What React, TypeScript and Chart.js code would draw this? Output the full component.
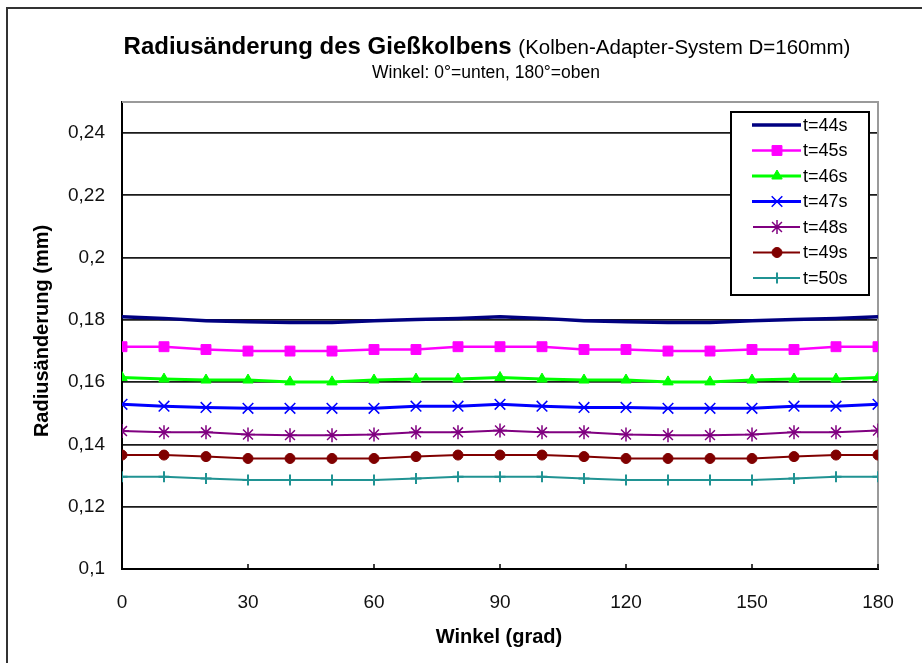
import { useEffect, useRef } from 'react';
import { Chart, registerables } from 'chart.js';
import { drawPoint } from 'chart.js/helpers';

Chart.register(...registerables);

// Angle around the piston (degrees), one reading every 10°
const angles = [0, 10, 20, 30, 40, 50, 60, 70, 80, 90, 100, 110, 120, 130, 140, 150, 160, 170, 180];

// Radius change (mm) per time step
const t44 = [0.1810, 0.1805, 0.1797, 0.1794, 0.1792, 0.1792, 0.1797, 0.1801, 0.1805, 0.1810, 0.1805, 0.1797, 0.1794, 0.1792, 0.1792, 0.1797, 0.1801, 0.1805, 0.1810];
const t45 = [0.1714, 0.1714, 0.1705, 0.1700, 0.1700, 0.1700, 0.1705, 0.1705, 0.1714, 0.1714, 0.1714, 0.1705, 0.1705, 0.1700, 0.1700, 0.1705, 0.1705, 0.1714, 0.1714];
const t46 = [0.1615, 0.1610, 0.1607, 0.1607, 0.1601, 0.1601, 0.1607, 0.1610, 0.1610, 0.1615, 0.1610, 0.1607, 0.1607, 0.1601, 0.1601, 0.1607, 0.1610, 0.1610, 0.1615];
const t47 = [0.1529, 0.1523, 0.1519, 0.1516, 0.1516, 0.1516, 0.1516, 0.1523, 0.1523, 0.1529, 0.1523, 0.1519, 0.1519, 0.1516, 0.1516, 0.1516, 0.1523, 0.1523, 0.1529];
const t48 = [0.1443, 0.1439, 0.1439, 0.1432, 0.1430, 0.1430, 0.1432, 0.1439, 0.1439, 0.1445, 0.1439, 0.1439, 0.1432, 0.1430, 0.1430, 0.1432, 0.1439, 0.1439, 0.1445];
const t49 = [0.1366, 0.1366, 0.1361, 0.1355, 0.1355, 0.1355, 0.1355, 0.1361, 0.1366, 0.1366, 0.1366, 0.1361, 0.1355, 0.1355, 0.1355, 0.1355, 0.1361, 0.1366, 0.1366];
const t50 = [0.1296, 0.1296, 0.1291, 0.1286, 0.1286, 0.1286, 0.1286, 0.1291, 0.1296, 0.1296, 0.1296, 0.1291, 0.1286, 0.1286, 0.1286, 0.1286, 0.1291, 0.1296, 0.1296];

const seriesLabels = ['t=44s', 't=45s', 't=46s', 't=47s', 't=48s', 't=49s', 't=50s'];
const seriesValues = [t44, t45, t46, t47, t48, t49, t50];

const yTickValues = [0.1, 0.12, 0.14, 0.16, 0.18, 0.2, 0.22, 0.24];
const xTickValues = [0, 30, 60, 90, 120, 150, 180];

const titleBold = 'Radiusänderung des Gießkolbens';
const titleNormal = '(Kolben-Adapter-System D=160mm)';
const subtitle = 'Winkel: 0°=unten, 180°=oben';
const yTitle = 'Radiusänderung (mm)';
const xTitle = 'Winkel (grad)';

const FONT = '"Liberation Sans", Arial, Helvetica, sans-serif';

type SeriesStyle = {
  color: string;
  width: number;
  pointStyle: any;
  radius: number;
  pointBorder: number;
  filled: boolean;
};

const seriesStyles: SeriesStyle[] = [
  { color: '#000080', width: 3.5, pointStyle: false, radius: 0, pointBorder: 0, filled: false },
  { color: '#ff00ff', width: 2.5, pointStyle: 'rect', radius: 7, pointBorder: 1, filled: true },
  { color: '#00ff00', width: 3, pointStyle: 'triangle', radius: 6, pointBorder: 1, filled: true },
  { color: '#0000ff', width: 3, pointStyle: 'crossRot', radius: 7.5, pointBorder: 1.5, filled: false },
  { color: '#800080', width: 2, pointStyle: 'star', radius: 7, pointBorder: 1.5, filled: false },
  { color: '#800000', width: 2, pointStyle: 'circle', radius: 5, pointBorder: 1, filled: true },
  { color: '#209393', width: 2, pointStyle: 'cross', radius: 5.5, pointBorder: 2, filled: false },
];

// Outer frame, white page, plot border and inner x tick marks
const framePlugin = {
  id: 'frame',
  beforeDraw(chart: any) {
    const { ctx, width, height } = chart;
    ctx.save();
    ctx.fillStyle = '#ffffff';
    ctx.fillRect(0, 0, width, height);
    ctx.strokeStyle = '#333333';
    ctx.lineWidth = 2;
    ctx.beginPath();
    ctx.moveTo(7, height);
    ctx.lineTo(7, 8);
    ctx.lineTo(width, 8);
    ctx.stroke();
    ctx.restore();
  },
  beforeDatasetsDraw(chart: any) {
    const { ctx, chartArea } = chart;
    const { left, right, top, bottom } = chartArea;
    ctx.save();
    ctx.strokeStyle = '#9a9a9a';
    ctx.lineWidth = 2;
    ctx.beginPath();
    ctx.moveTo(left, top);
    ctx.lineTo(right, top);
    ctx.lineTo(right, bottom);
    ctx.stroke();
    ctx.strokeStyle = '#000000';
    ctx.lineWidth = 1.5;
    const xs = chart.scales.x;
    ctx.beginPath();
    for (const v of xTickValues) {
      const px = xs.getPixelForValue(v);
      ctx.moveTo(px, bottom);
      ctx.lineTo(px, bottom - 5);
    }
    ctx.stroke();
    ctx.restore();
  },
};

// Titles, axis titles and the boxed legend
const textPlugin = {
  id: 'texts',
  afterDraw(chart: any) {
    const { ctx } = chart;
    ctx.save();
    ctx.fillStyle = '#000000';
    ctx.textBaseline = 'alphabetic';

    // main title: bold part followed by normal part
    const boldFont = `bold 24px ${FONT}`;
    const normFont = `20.5px ${FONT}`;
    ctx.font = boldFont;
    const wb = ctx.measureText(titleBold + ' ').width;
    ctx.font = normFont;
    const wn = ctx.measureText(titleNormal).width;
    const cx = 487;
    const startX = cx - (wb + wn) / 2;
    ctx.textAlign = 'left';
    ctx.font = boldFont;
    ctx.fillText(titleBold, startX, 54);
    ctx.font = normFont;
    ctx.fillText(titleNormal, startX + wb, 54);

    ctx.textAlign = 'center';
    ctx.font = `17.5px ${FONT}`;
    ctx.fillText(subtitle, 486, 78);

    // axis titles
    ctx.font = `bold 20px ${FONT}`;
    ctx.textBaseline = 'middle';
    ctx.fillText(xTitle, 499, 637);
    ctx.save();
    ctx.translate(42, 331);
    ctx.rotate(-Math.PI / 2);
    ctx.fillText(yTitle, 0, 0);
    ctx.restore();

    // legend box
    const bx = 731, by = 112, bw = 138, bh = 183;
    ctx.fillStyle = '#ffffff';
    ctx.fillRect(bx, by, bw, bh);
    ctx.strokeStyle = '#000000';
    ctx.lineWidth = 2;
    ctx.strokeRect(bx, by, bw, bh);
    ctx.font = `18px ${FONT}`;
    ctx.textAlign = 'left';
    ctx.textBaseline = 'middle';
    seriesLabels.forEach((label, i) => {
      const st = seriesStyles[i];
      const y = 125 + i * 25.5;
      const thin = st.width <= 2;
      ctx.strokeStyle = st.color;
      ctx.lineWidth = st.width;
      ctx.beginPath();
      ctx.moveTo(thin ? 753 : 752, y);
      ctx.lineTo(thin ? 800 : 801, y);
      ctx.stroke();
      if (st.pointStyle) {
        ctx.fillStyle = st.color;
        ctx.strokeStyle = st.color;
        ctx.lineWidth = st.pointBorder;
        drawPoint(ctx, { pointStyle: st.pointStyle, radius: st.radius, rotation: 0, borderWidth: st.pointBorder }, 777, y);
      }
      ctx.fillStyle = '#000000';
      ctx.fillText(label, 803, y + 1);
    });
    ctx.restore();
  },
};

export default function App() {
  const canvasRef = useRef<HTMLCanvasElement | null>(null);

  useEffect(() => {
    const canvas = canvasRef.current;
    if (!canvas) return;

    const datasets = seriesValues.map((vals, i) => {
      const st = seriesStyles[i];
      return {
        label: seriesLabels[i],
        data: angles.map((a, j) => ({ x: a, y: vals[j] })),
        borderColor: st.color,
        borderWidth: st.width,
        backgroundColor: st.color,
        pointStyle: st.pointStyle,
        pointRadius: st.radius,
        pointBorderWidth: st.pointBorder,
        pointBackgroundColor: st.filled ? st.color : 'rgba(0,0,0,0)',
        pointBorderColor: st.color,
        tension: 0,
        fill: false,
      };
    });

    const chart = new Chart(canvas, {
      type: 'line',
      data: { datasets },
      plugins: [framePlugin, textPlugin],
      options: {
        responsive: false,
        animation: false,
        events: [],
        layout: { padding: { top: 102, left: 20, right: 44, bottom: 20 } },
        plugins: {
          legend: { display: false },
          title: { display: false },
          tooltip: { enabled: false },
        },
        scales: {
          x: {
            type: 'linear',
            min: 0,
            max: 180,
            afterFit: (scale: any) => { scale.height = 74; },
            afterBuildTicks: (scale: any) => { scale.ticks = xTickValues.map((v) => ({ value: v })); },
            grid: { display: false, drawTicks: false },
            border: { display: true, color: '#000000', width: 2 },
            ticks: {
              padding: 22,
              color: '#111111',
              font: { family: FONT, size: 19 },
              maxRotation: 0,
              callback: (v: any) => String(v),
            },
          },
          y: {
            type: 'linear',
            min: 0.1,
            max: 0.25,
            afterFit: (scale: any) => { scale.width = 102; },
            afterBuildTicks: (scale: any) => { scale.ticks = yTickValues.map((v) => ({ value: v })); },
            grid: { color: '#1a1a1a', lineWidth: 1.8, drawTicks: false },
            border: { display: true, color: '#000000', width: 2 },
            ticks: {
              padding: 17,
              color: '#111111',
              font: { family: FONT, size: 19 },
              callback: (v: any) => String(parseFloat(Number(v).toFixed(2))).replace('.', ','),
            },
          },
        },
      } as any,
    });

    return () => chart.destroy();
  }, []);

  return (
    <div style={{ position: 'absolute', left: 0, top: 0, width: 922, height: 663 }}>
      <canvas ref={canvasRef} width={922} height={663} style={{ display: 'block' }} />
    </div>
  );
}
